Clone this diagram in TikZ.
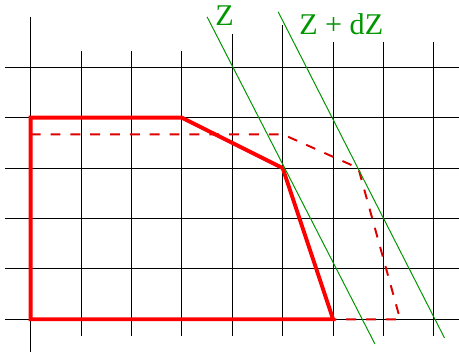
\documentclass[tikz,border=0pt]{standalone}
\usepackage{fontspec}
\setmainfont{Liberation Serif}
\definecolor{zgreen}{RGB}{0,150,0}
\definecolor{dred}{RGB}{220,0,0}
\begin{document}
\begin{tikzpicture}[
  gridline/.style={black, line width=0.56pt},
  solidred/.style={red, line width=2.2pt, line join=miter},
  dashedred/.style={dred, line width=1.1pt, dash pattern=on 5.6pt off 5.6pt},
  zline/.style={zgreen, line width=0.56pt},
  zlabel/.style={text=zgreen, font=\fontsize{17}{20}\selectfont, inner sep=0pt, anchor=base west}]
\useasboundingbox (-0.609,-0.649) rectangle (8.498,6.335);
% grid
\foreach \j in {0,...,5} \draw[gridline] (-0.5,\j) -- (8.498,\j);
\draw[gridline] (0,-0.65) -- (0,6.0);
\foreach \i in {1,2,3} \draw[gridline] (\i,-0.33) -- (\i,5.32);
\draw[gridline] (4,-0.33) -- (4,5.67);
\draw[gridline] (5,-0.33) -- (5,5.83);
\foreach \i in {6,7,8} \draw[gridline] (\i,-0.33) -- (\i,5.5);
% production sets
\coordinate (a0) at (0,0);
\coordinate (a1) at (0,4);
\coordinate (a2) at (3,4);
\coordinate (a3) at (5,3);
\coordinate (a4) at (6,0);
\coordinate (b0) at (0,3.67);
\coordinate (b1) at (5,3.67);
\coordinate (b2) at (6.5,3);
\coordinate (b3) at (7.33,0);
\draw[dashedred] (b0) -- (b1) -- (b2) -- (b3) -- (a4);
\draw[solidred] (a0) -- (a1) -- (a2) -- (a3) -- (a4) -- cycle;
% iso lines
\coordinate (z1) at (3.5,6.0);
\coordinate (z2) at (6.83,-0.49);
\coordinate (w1) at (4.91,6.10);
\coordinate (w2) at (8.21,-0.37);
\draw[zline] (z1) -- (z2);
\draw[zline] (w1) -- (w2);
\node[zlabel] (zl) at (3.656,5.82) {Z};
\node[zlabel] (zdl) at (5.323,5.655) {Z + dZ};
\end{tikzpicture}
\end{document}
